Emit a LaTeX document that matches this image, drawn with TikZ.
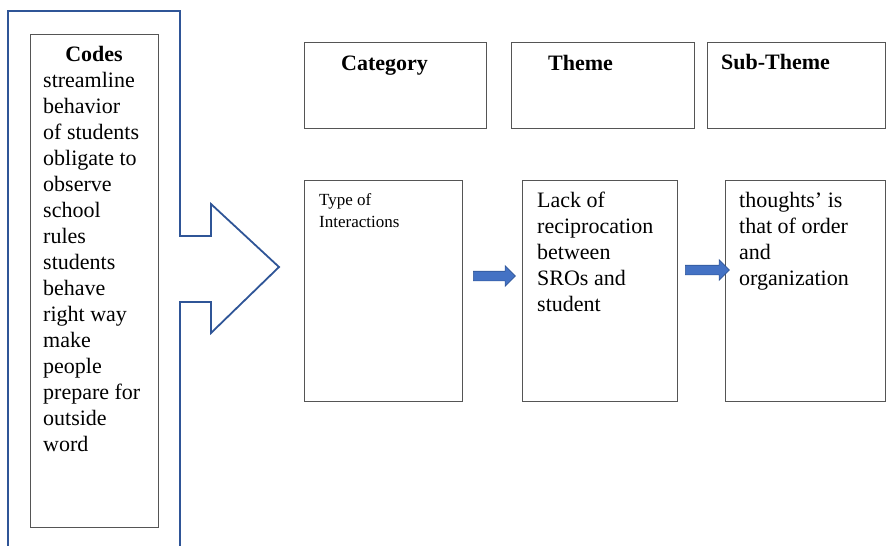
\documentclass[tikz,border=0pt]{standalone}
\usepackage{fontspec}
\setmainfont{Liberation Serif}
\usetikzlibrary{shapes.arrows}
\definecolor{outlineblue}{HTML}{2F5597}
\definecolor{arrowfill}{HTML}{4472C4}
\definecolor{boxgray}{HTML}{555555}

\begin{document}
\begin{tikzpicture}[x=1pt,y=-1pt,
  box/.style={draw=boxgray, line width=1pt, inner sep=0pt, anchor=north west},
  body/.style={font=\fontsize{22}{26}\selectfont, inner sep=0pt, anchor=base west},
  small/.style={font=\fontsize{17}{22}\selectfont, inner sep=0pt, anchor=base west},
  head/.style={font=\fontsize{22}{26}\selectfont\bfseries, inner sep=0pt, anchor=base west},
  blockarrow/.style={single arrow, fill=arrowfill, draw=outlineblue, line width=0.6pt,
    inner xsep=0pt, inner ysep=4.5pt, single arrow head extend=5.5pt,
    single arrow tip angle=90},
]
\useasboundingbox (0,0) rectangle (887,546);

% large outlined arrow around the code list
\draw[outlineblue, line width=1.8pt]
  (8,550) -- (8,11) -- (180,11) -- (180,236) -- (211,236) -- (211,204)
  -- (279,267) -- (211,333) -- (211,302) -- (180,302) -- (180,550);

% code list
\node[box, minimum width=128pt, minimum height=493pt] (codesbox) at (30,34) {};
\node[head, anchor=base] (codeshead) at (94,61) {Codes};
\foreach \t [count=\i] in {streamline, behavior, of students, obligate to, observe,
  school, rules, students, behave, right way, make, people, prepare for, outside, word}
  \node[body] (code\i) at (43,61+26*\i) {\t};

% header boxes
\node[box, minimum width=182pt, minimum height=86pt] (catbox) at (304,42) {};
\node[box, minimum width=183pt, minimum height=86pt] (themebox) at (511,42) {};
\node[box, minimum width=178pt, minimum height=86pt] (subbox) at (707,42) {};
\node[head] (cathead) at (341,70) {Category};
\node[head] (themehead) at (548,70) {Theme};
\node[head] (subhead) at (721,69) {Sub-Theme};

% content boxes
\node[box, minimum width=158pt, minimum height=221pt] (typebox) at (304,180) {};
\node[box, minimum width=155pt, minimum height=221pt] (lackbox) at (522,180) {};
\node[box, minimum width=160pt, minimum height=221pt] (thoughtbox) at (725,180) {};

\node[small] (type1) at (319,205) {Type of};
\node[small] (type2) at (319,227) {Interactions};

\foreach \t [count=\i] in {Lack of, reciprocation, between, SROs and, student}
  \node[body] (lack\i) at (537,181+26*\i) {\t};

\foreach \t [count=\i] in {thoughts’ is, that of order, and, organization}
  \node[body] (thought\i) at (739,181+26*\i) {\t};

% block arrows between the content boxes
\node[blockarrow, minimum height=42pt] (arrowA) at (492,276) {};
\node[blockarrow, minimum height=44pt] (arrowB) at (705,270) {};
\end{tikzpicture}
\end{document}
